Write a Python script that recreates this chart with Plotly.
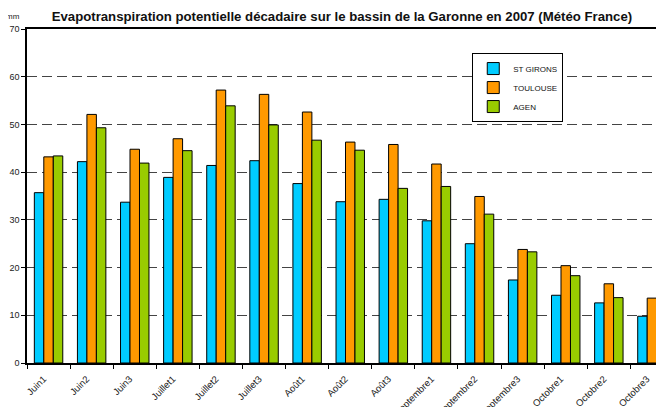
import plotly.graph_objects as go

categories = ["Juin1", "Juin2", "Juin3", "Juillet1", "Juillet2", "Juillet3",
              "Août1", "Août2", "Août3", "Septembre1", "Septembre2", "Septembre3",
              "Octobre1", "Octobre2", "Octobre3"]
st_girons = [35.7, 42.2, 33.7, 38.9, 41.4, 42.4, 37.6, 33.8, 34.3, 29.8, 25.0, 17.4, 14.2, 12.6, 9.8]
toulouse = [43.2, 52.1, 44.8, 47.0, 57.2, 56.3, 52.6, 46.3, 45.8, 41.7, 34.9, 23.8, 20.4, 16.6, 13.6]
agen = [43.4, 49.3, 41.9, 44.5, 53.9, 49.9, 46.7, 44.6, 36.6, 37.0, 31.2, 23.3, 18.3, 13.7, 10.3]

FONT = "Liberation Sans"

fig = go.Figure()
for name, vals, color in [("ST GIRONS", st_girons, "#00CCFF"),
                          ("TOULOUSE", toulouse, "#FF9900"),
                          ("AGEN", agen, "#99CC00")]:
    fig.add_trace(go.Bar(x=categories, y=vals, name=name,
                         marker=dict(color=color, line=dict(color="black", width=1))))

fig.add_annotation(text="mm", xref="paper", yref="paper", x=-0.008, y=1.0,
                   yshift=13, showarrow=False, xanchor="right", yanchor="middle",
                   font=dict(size=8, color="#222"))

# page body has an 8px margin, so the figure is 8px smaller than the window
fig.update_layout(
    width=656, height=399,
    margin=dict(l=19, r=0, t=21, b=44),
    paper_bgcolor="white", plot_bgcolor="white",
    font=dict(family=FONT, color="#222"),
    title=dict(text="<b>Evapotranspiration potentielle décadaire sur le bassin de la Garonne en 2007 (Météo France)</b>",
               x=0.509, xanchor="center", y=0.98, yanchor="middle",
               font=dict(size=13.2, color="#111")),
    barmode="group", bargap=0.34, bargroupgap=0,
    showlegend=True,
    legend=dict(x=0.699, y=0.928, xanchor="left", yanchor="top",
                bgcolor="white", bordercolor="black", borderwidth=1,
                font=dict(size=8, color="#111"), itemwidth=30,
                tracegroupgap=0),
    xaxis=dict(range=[-0.5, 14.28], showline=True, linecolor="black", linewidth=1.5,
               mirror=True, ticks="outside", tickson="boundaries", ticklen=4,
               tickcolor="black", tickangle=-45, tickfont=dict(size=9.5),
               ticklabelstandoff=5, ticklabelshift=-5,
               automargin=False, showgrid=False),
    yaxis=dict(range=[0, 70], dtick=10, showline=True, linecolor="black", linewidth=1.5,
               ticks="outside", ticklen=4, tickcolor="black", tickfont=dict(size=9),
               showgrid=True, gridcolor="#444", griddash="10px,5px", gridwidth=1,
               automargin=False, zeroline=False),
)

fig.write_html("out.html")
